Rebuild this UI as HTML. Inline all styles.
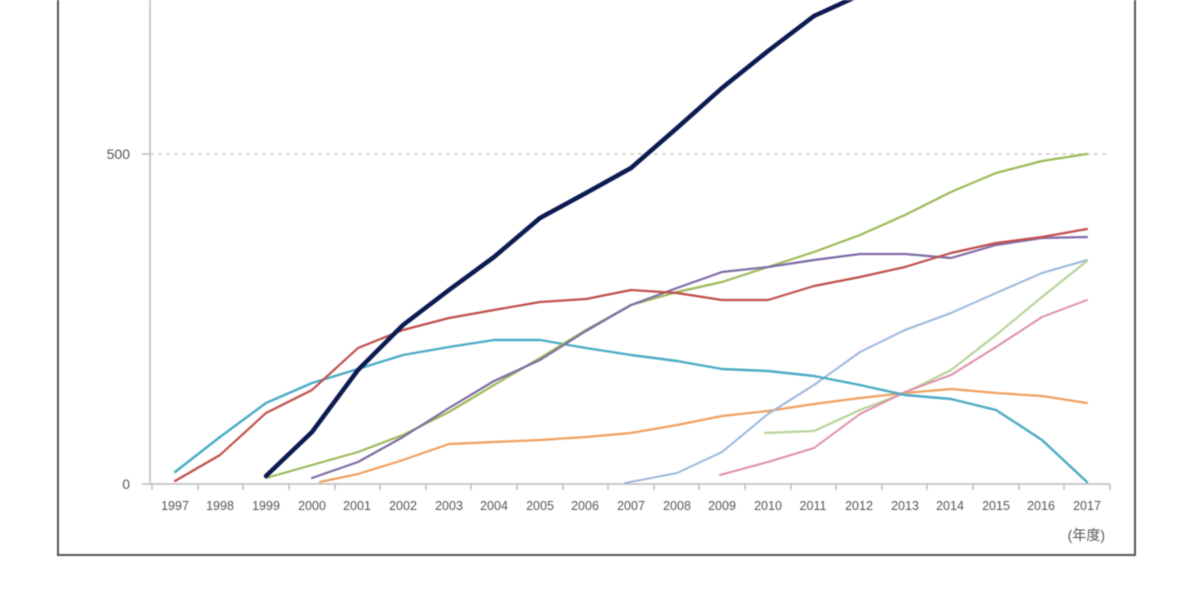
<!DOCTYPE html>
<html><head><meta charset="utf-8"><style>
html,body{margin:0;padding:0;background:#fff;width:1200px;height:600px;overflow:hidden}
svg{display:block;filter:blur(0.6px)}
text{font-family:"Liberation Sans","Noto Sans CJK JP",sans-serif;fill:#555}
</style></head><body>
<svg width="1200" height="600" viewBox="0 0 1200 600">
<rect x="58" y="-10" width="1077" height="565" fill="none" stroke="#555" stroke-width="2"/>
<line x1="150" y1="154" x2="1110" y2="154" stroke="#ccc" stroke-width="1.5" stroke-dasharray="4,4"/>
<line x1="150" y1="0" x2="150" y2="484" stroke="#bbb" stroke-width="1.5"/>
<line x1="142" y1="484" x2="1110" y2="484" stroke="#bbb" stroke-width="1.5"/>
<line x1="142" y1="154" x2="150" y2="154" stroke="#bbb" stroke-width="1.5"/>
<g stroke="#bbb" stroke-width="1.5">
<line x1="152" y1="484" x2="152" y2="490"/><line x1="198" y1="484" x2="198" y2="490"/><line x1="243" y1="484" x2="243" y2="490"/><line x1="289" y1="484" x2="289" y2="490"/><line x1="335" y1="484" x2="335" y2="490"/><line x1="380" y1="484" x2="380" y2="490"/><line x1="426" y1="484" x2="426" y2="490"/><line x1="471" y1="484" x2="471" y2="490"/><line x1="517" y1="484" x2="517" y2="490"/><line x1="563" y1="484" x2="563" y2="490"/><line x1="608" y1="484" x2="608" y2="490"/><line x1="654" y1="484" x2="654" y2="490"/><line x1="699" y1="484" x2="699" y2="490"/><line x1="745" y1="484" x2="745" y2="490"/><line x1="791" y1="484" x2="791" y2="490"/><line x1="836" y1="484" x2="836" y2="490"/><line x1="882" y1="484" x2="882" y2="490"/><line x1="927" y1="484" x2="927" y2="490"/><line x1="973" y1="484" x2="973" y2="490"/><line x1="1019" y1="484" x2="1019" y2="490"/><line x1="1064" y1="484" x2="1064" y2="490"/><line x1="1110" y1="484" x2="1110" y2="490"/>
</g>
<text x="130" y="159" font-size="14" text-anchor="end">500</text>
<text x="130" y="489" font-size="14" text-anchor="end">0</text>
<g font-size="12.5" text-anchor="middle">
<text x="175" y="510">1997</text><text x="220" y="510">1998</text><text x="266" y="510">1999</text><text x="312" y="510">2000</text><text x="357" y="510">2001</text><text x="403" y="510">2002</text><text x="449" y="510">2003</text><text x="494" y="510">2004</text><text x="540" y="510">2005</text><text x="585" y="510">2006</text><text x="631" y="510">2007</text><text x="677" y="510">2008</text><text x="722" y="510">2009</text><text x="768" y="510">2010</text><text x="813" y="510">2011</text><text x="859" y="510">2012</text><text x="905" y="510">2013</text><text x="950" y="510">2014</text><text x="996" y="510">2015</text><text x="1041" y="510">2016</text><text x="1087" y="510">2017</text>
</g>
<text x="1105" y="540" font-size="14" text-anchor="end" fill="#444">(年度)</text>
<g fill="none" stroke-linejoin="round" stroke-linecap="round">
<polyline stroke="#f0a060" stroke-width="2.2" points="320,482 358,474 403,460 449,444 494,442 540,440 586,437 631,433 677,425 722,416 768,411 814,404 860,398 905,393 951,389 996,393 1042,396 1087,403"/>
<polyline stroke="#9db8dc" stroke-width="2" points="625,483 677,473 722,452 768,414 814,385 860,352 905,330 951,313 996,293 1042,273 1087,260"/>
<polyline stroke="#b8d49a" stroke-width="2.2" points="765,433 814,431 860,410 905,393 951,370 996,335 1042,297 1087,261"/>
<polyline stroke="#e090a8" stroke-width="2" points="720,475 768,462 814,448 860,414 905,392 951,375 996,347 1042,317 1087,300"/>
<polyline stroke="#4bacc6" stroke-width="2.4" points="175,472 220,437 266,403 312,383 358,369 403,355 449,347 494,340 540,340 586,348 631,355 677,361 722,369 768,371 814,376 860,385 905,395 951,399 996,410 1042,440 1087,482"/>
<polyline stroke="#9bbb59" stroke-width="2.2" points="266,478 312,465 358,452 403,435 449,412 494,385 540,358 586,330 631,305 677,292 722,282 768,267 814,252 860,235 905,215 951,192 996,173 1042,161 1087,154"/>
<polyline stroke="#7f6ca6" stroke-width="2.2" points="312,478 358,462 403,437 449,408 494,381 540,360 586,331 631,305 677,288 722,272 768,267 814,260 860,254 905,254 951,258 996,245 1042,238 1087,237"/>
<polyline stroke="#c0504d" stroke-width="2.2" points="175,481 220,455 266,413 312,390 358,348 403,330 449,318 494,310 540,302 586,299 631,290 677,293 722,300 768,300 814,286 860,277 905,267 951,253 996,243 1042,237 1087,229"/>
<polyline stroke="#0b1a50" stroke-width="4.5" points="266,476 312,432 358,370 403,325 449,290 494,257 540,218 586,193 631,168 677,128 722,88 768,51 814,16 860,-5"/>
</g>
</svg>
</body></html>
